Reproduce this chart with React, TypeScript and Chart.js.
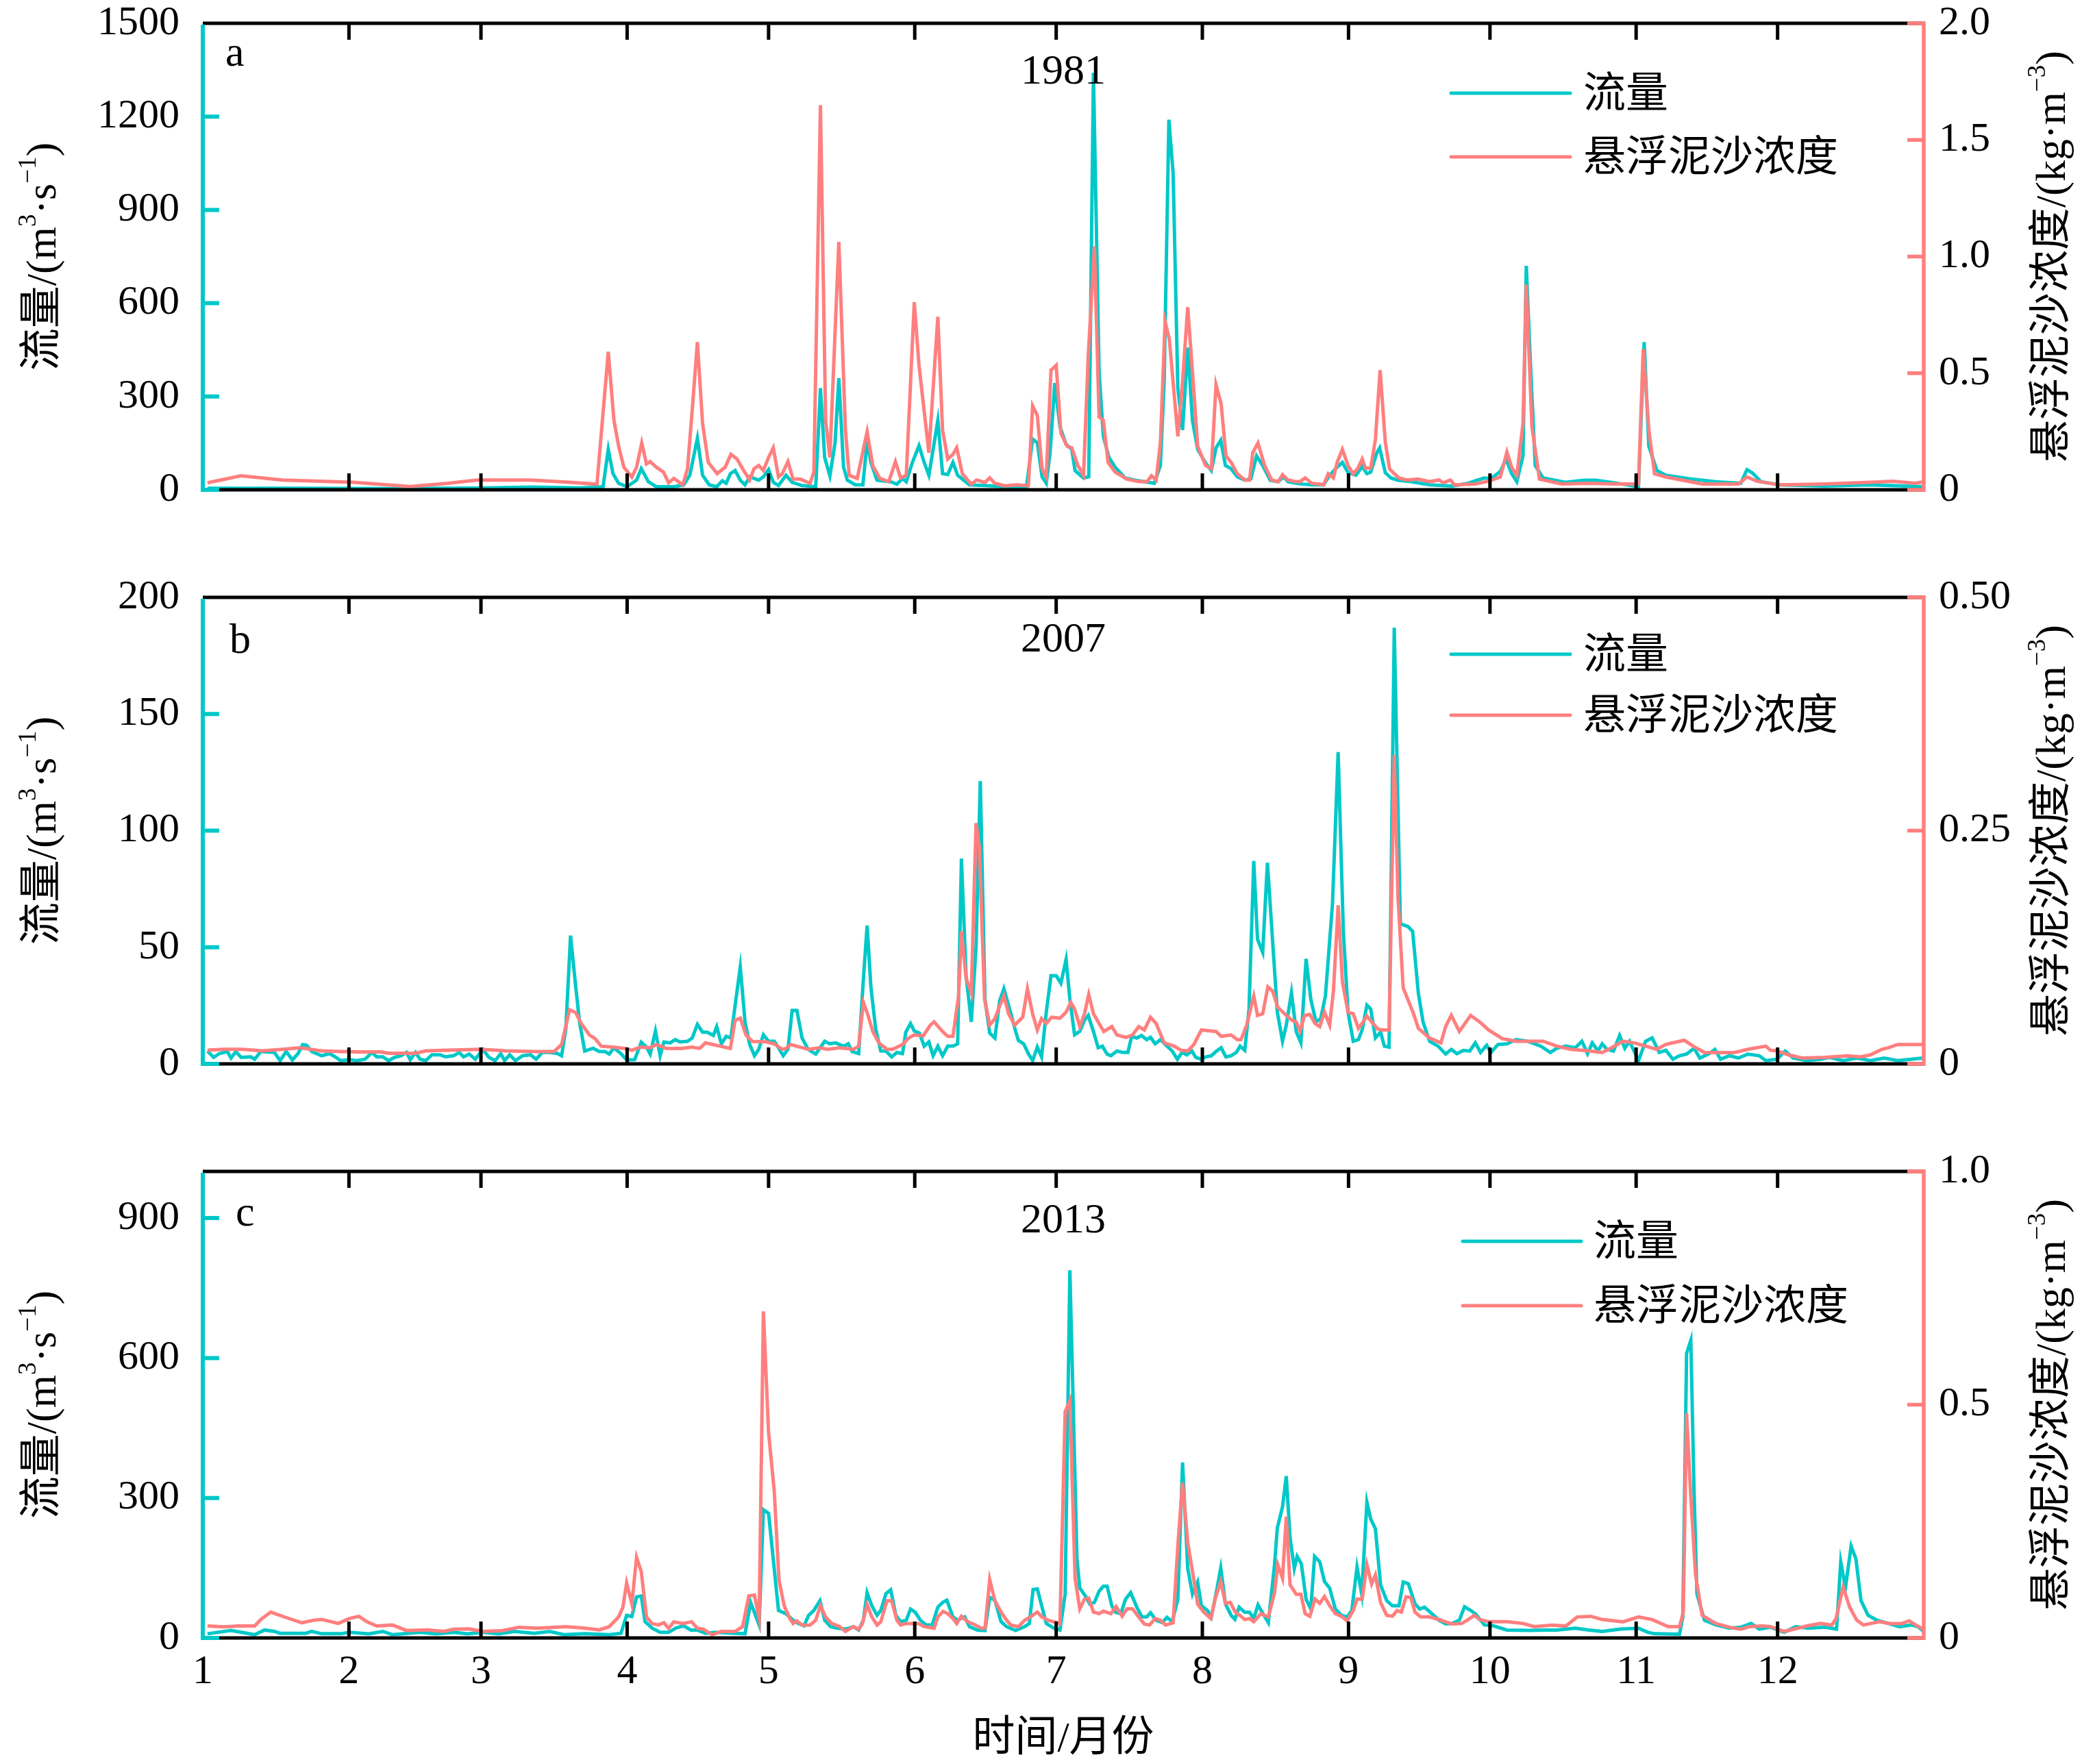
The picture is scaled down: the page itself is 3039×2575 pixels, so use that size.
import { useEffect, useRef } from "react"
import { Chart, registerables } from "chart.js"

Chart.register(...registerables)

const TEAL = "#00C8C8"
const SALMON = "#FF7F7F"
const FONT = "'Liberation Serif', 'Times New Roman', 'Noto Sans CJK SC', serif"

// x axis: day of year, ticks at month starts
const monthStartDays = [0, 31, 59, 90, 120, 151, 181, 212, 243, 273, 304, 334]
const monthLabels = ["1", "2", "3", "4", "5", "6", "7", "8", "9", "10", "11", "12"]

// 1981 — [day, flow m3/s] and [day, concentration kg/m3]
const flow1981: [number, number][] = [
  [1, 5], [20, 5], [40, 4], [60, 6], [70, 9], [80, 6], [84.9, 10], [86, 130], [87, 52], [88.2, 21], [90, 10],
  [92, 31], [93, 68], [94.5, 26], [96.2, 10], [100, 10], [102, 16], [103.3, 47], [104.9, 166], [106, 47],
  [107.4, 16], [109, 10], [110.2, 29], [111, 21], [111.9, 52], [112.9, 62], [114, 31], [115, 16], [116, 42],
  [117.9, 31], [118.9, 42], [120, 65], [121, 24], [122.1, 14], [123.7, 47], [125, 24], [127, 14], [130, 10],
  [131, 327], [131.9, 104], [133, 45], [134.1, 151], [134.9, 359], [135.9, 73], [136.7, 31], [138.4, 16],
  [140, 16], [140.9, 156], [141.7, 88], [143, 31], [145.9, 26], [147.2, 18], [148.4, 36], [149.2, 26],
  [150.5, 88], [151.9, 142], [153, 88], [154, 47], [155.9, 223], [156.9, 52], [158, 49], [159.1, 88],
  [160.1, 47], [162.6, 16], [165.9, 14], [170.1, 10], [174.7, 10], [176, 163], [177, 151], [178, 42],
  [178.9, 21], [179.7, 119], [180.7, 343], [181.8, 203], [183.1, 146], [184.3, 130], [185, 62], [186.8, 38],
  [187.9, 42], [188.9, 1341], [190.1, 379], [191, 172], [192.2, 104], [193.5, 73], [195.6, 38], [197.7, 31],
  [201.8, 21], [203.1, 78], [203.9, 348], [204.9, 1190], [205.8, 1019], [206.8, 327], [207.8, 192],
  [208.9, 457], [209.9, 223], [211, 130], [212.7, 86], [213.9, 62], [214.9, 135], [215.9, 159], [216.9, 78],
  [218.1, 68], [219.4, 42], [221, 31], [222.3, 36], [223.5, 109], [224.8, 78], [226.4, 31], [228.1, 26],
  [229.2, 42], [230.2, 26], [232.7, 19], [235.2, 16], [237.7, 16], [239, 47], [240.6, 73], [241.7, 88],
  [242.9, 55], [244.6, 47], [245.9, 75], [246.9, 52], [247.7, 57], [249, 119], [249.6, 135], [250.8, 55],
  [252, 38], [253.5, 31], [256.4, 26], [260.2, 16], [265, 12], [268.4, 21], [270.3, 31], [271.8, 38],
  [273.2, 36], [275.2, 59], [276.4, 99], [277.6, 52], [278.7, 26], [280, 109], [280.7, 720], [281.6, 400],
  [282.6, 78], [284.3, 38], [289.1, 24], [293, 31], [295.4, 31], [298.8, 24], [304.5, 10], [305.7, 475],
  [306.7, 140], [308.4, 62], [310.3, 47], [315.1, 36], [320.9, 26], [326.2, 21], [327.5, 65], [328.6, 55],
  [330.5, 26], [334.4, 16], [344, 12], [353.7, 16], [365, 10],
]
const conc1981: [number, number][] = [
  [1, 0.03], [8.1, 0.06], [16.9, 0.042], [31.9, 0.032], [44, 0.014], [52, 0.028], [58.2, 0.042], [69.5, 0.042],
  [77.8, 0.032], [83.6, 0.024], [86, 0.592], [87.2, 0.298], [88.2, 0.187], [89.3, 0.097], [91, 0.055],
  [92, 0.097], [93.1, 0.201], [94.1, 0.111], [94.9, 0.121], [96.2, 0.097], [97.7, 0.076], [98.8, 0.03],
  [99.9, 0.049], [101.8, 0.021], [102.8, 0.09], [103.8, 0.34], [104.9, 0.633], [106, 0.284], [107.2, 0.118],
  [109.1, 0.069], [110.8, 0.097], [112, 0.152], [113.3, 0.132], [114.5, 0.09], [116, 0.042], [116.9, 0.09],
  [117.9, 0.104], [118.9, 0.083], [120, 0.139], [121, 0.18], [122.1, 0.055], [122.9, 0.069], [124.1, 0.121],
  [125.2, 0.046], [126.7, 0.046], [128.8, 0.028], [129.6, 0.076], [131, 1.649], [132.1, 0.298], [133, 0.139],
  [134.9, 1.063], [136.3, 0.256], [137.1, 0.062], [138.8, 0.049], [140.9, 0.249], [142.1, 0.104],
  [143.6, 0.049], [145.5, 0.035], [146.9, 0.121], [148, 0.051], [149.2, 0.062], [150.9, 0.804], [151.9, 0.534],
  [154, 0.159], [155.9, 0.742], [156.9, 0.256], [158, 0.132], [159.1, 0.152], [159.9, 0.18], [161.1, 0.069],
  [163, 0.024], [164.1, 0.042], [165.9, 0.032], [166.9, 0.051], [168, 0.028], [170.1, 0.017], [172.6, 0.021],
  [175.1, 0.018], [176, 0.36], [177, 0.319], [178, 0.09], [178.9, 0.055], [179.9, 0.513], [181, 0.534],
  [182, 0.243], [183.3, 0.187], [184.3, 0.18], [185.6, 0.104], [186.8, 0.062], [187.8, 0.575], [189.1, 1.044],
  [190.1, 0.312], [191, 0.298], [192, 0.118], [193.5, 0.076], [196, 0.046], [198.5, 0.035], [200.3, 0.035],
  [201.2, 0.06], [202.2, 0.042], [203.1, 0.201], [204.1, 0.721], [205, 0.645], [206.8, 0.229], [207.7, 0.437],
  [208.9, 0.783], [210.2, 0.423], [211, 0.187], [212.7, 0.104], [213.9, 0.09], [214.9, 0.45], [216, 0.367],
  [217, 0.146], [218.1, 0.118], [219.4, 0.069], [221, 0.042], [222, 0.042], [222.7, 0.159], [223.8, 0.201],
  [225.2, 0.104], [226.7, 0.042], [228.1, 0.035], [229, 0.065], [230.2, 0.042], [231.9, 0.035], [232.7, 0.035],
  [233.8, 0.051], [235.2, 0.028], [236.9, 0.024], [237.7, 0.021], [238.7, 0.069], [239.8, 0.051],
  [240.6, 0.118], [241.7, 0.173], [242.9, 0.104], [244, 0.069], [245, 0.093], [245.9, 0.132], [246.6, 0.093],
  [247.7, 0.093], [248.7, 0.215], [249.7, 0.513], [250.8, 0.205], [251.7, 0.09], [252.5, 0.073],
  [253.7, 0.051], [255.4, 0.042], [257.8, 0.046], [260.2, 0.035], [262.2, 0.042], [263.1, 0.03],
  [264.6, 0.042], [265.5, 0.021], [269.9, 0.025], [272.7, 0.037], [275.2, 0.055], [276.6, 0.162],
  [277.6, 0.097], [278.7, 0.062], [280, 0.284], [280.7, 0.88], [281.9, 0.27], [283.5, 0.046], [288.2, 0.025],
  [293.9, 0.028], [299.7, 0.025], [304.5, 0.025], [305.5, 0.603], [306.7, 0.256], [307.9, 0.069],
  [310.3, 0.055], [318, 0.025], [325.7, 0.025], [327.5, 0.055], [329.6, 0.037], [334.4, 0.021], [344, 0.025],
  [353.7, 0.032], [358.5, 0.037], [363.3, 0.028], [365, 0.035],
]

// 2007
const flow2007: [number, number][] = [
  [1, 5.5], [2.3, 2.8], [3.5, 4.4], [5.2, 5.3], [6, 2.5], [7, 5.3], [8.1, 2.8], [10.2, 3], [11, 2], [12.3, 5.3],
  [15.2, 4.9], [16.4, 1.4], [17.7, 5.3], [19, 1.7], [20.2, 4.4], [21.2, 8.3], [22, 8], [23.1, 5.3], [25.2, 3.5],
  [26.9, 4.4], [28.1, 3], [29.2, 1.4], [31.1, 1.8], [32.7, 1.4], [34.4, 2], [35.9, 4.9], [36.9, 3], [38.2, 3],
  [39.4, 1.4], [40.7, 2.8], [42, 3.5], [43.2, 4.9], [44, 1.8], [45.1, 4.9], [46.1, 2], [47.3, 1.4], [48.6, 3.9],
  [50.3, 3.9], [51.5, 3], [53.2, 3.5], [54.4, 4.9], [55.3, 3], [56.5, 4.2], [57.8, 2], [59.4, 6.2], [60.7, 2.8],
  [62, 1.4], [63.2, 4.4], [64, 1.4], [65.1, 3.9], [66.3, 1.4], [67.8, 3.5], [69.5, 3.9], [70.7, 2], [72, 4.9],
  [73.6, 4.9], [75.3, 4.4], [76.1, 3.5], [77, 15], [78, 55], [79.1, 33], [79.9, 18], [81, 5.5], [82.8, 6.7],
  [84.1, 5.3], [85.3, 5.3], [86.2, 4.2], [87.2, 6.9], [88.7, 4.4], [89.9, 1.7], [91.6, 1.8], [93, 9.3],
  [94.1, 7.2], [94.9, 4.2], [96, 14.1], [97, 3.5], [97.8, 9.4], [99.1, 9], [100.2, 10.4], [101.2, 9.4],
  [102.8, 9.7], [103.8, 11.1], [104.9, 16.9], [106, 13.6], [107, 13.6], [108.3, 12.2], [109, 15.9], [110, 8.6],
  [111, 11.8], [112, 11.1], [112.9, 25], [114, 41.6], [115, 18], [116, 8.3], [117, 3.5], [117.9, 6.2],
  [118.9, 12.5], [120, 9.7], [121.2, 9.7], [122.1, 6.9], [123.1, 3.5], [124.1, 6.2], [125, 22.9], [126, 22.9],
  [127.1, 11.1], [128.4, 6.2], [130, 4.2], [131.9, 9.7], [133, 8.6], [134.2, 9], [135.9, 7.6], [136.9, 8.6],
  [137.7, 5.3], [139.1, 4.4], [140.1, 36], [140.9, 59.3], [141.7, 33], [142.7, 15.2], [143.8, 5.5],
  [144.9, 5.5], [146.1, 3], [147.2, 4.9], [148.4, 4.4], [149.1, 13.6], [150.1, 17.3], [150.9, 14.1],
  [152, 13.2], [153, 7.6], [154, 9.4], [154.9, 3.5], [155.9, 7.6], [156.9, 3.5], [158, 7.6], [159.1, 7.6],
  [160.1, 8.6], [160.9, 88], [161.9, 37.4], [163, 18], [164, 50], [164.9, 121.3], [165.9, 27.7], [166.9, 13.2],
  [168, 11.1], [169, 27], [169.9, 32.2], [171.4, 21.5], [172.4, 13.9], [173, 10], [174.1, 8.6], [175.1, 4.4],
  [176, 1.4], [177, 7.2], [177.9, 3], [178.9, 22.2], [179.9, 37.8], [181, 37.8], [182, 34.6], [183.1, 44.8],
  [183.9, 27.7], [184.9, 12.5], [186, 13.9], [187, 18.7], [187.8, 20.8], [188.9, 13.9], [189.9, 6.9],
  [190.8, 7.6], [191.8, 4.2], [192.6, 3.5], [193.9, 5.5], [195.2, 4.9], [196.2, 4.9], [197, 11.8],
  [198.1, 11.1], [199.1, 12.2], [200.2, 10.4], [201, 11.4], [202, 8.6], [203.1, 10.4], [204.3, 8], [205.6, 5.5],
  [206.7, 2], [207.7, 4.9], [208.7, 3.9], [209.8, 5.5], [210.6, 2.8], [211.7, 2], [212.7, 3], [213.9, 3.5],
  [215, 5.5], [216, 6.9], [217, 3], [218.1, 3.5], [219.2, 4.9], [220, 7.6], [221, 5.8], [221.9, 23.6],
  [222.9, 87], [223.7, 53.4], [224.8, 47.8], [225.8, 86.2], [226.9, 52.7], [227.9, 22.2], [229, 9.7],
  [229.8, 16.6], [230.9, 30.5], [231.9, 13.9], [232.9, 9], [234, 45], [235, 27.7], [236.1, 18], [237.1, 19.4],
  [238.1, 29.1], [239.6, 68.6], [240.8, 133.7], [241.9, 56.8], [242.9, 22.2], [244, 9.7], [245.1, 10.4],
  [245.9, 14.6], [246.9, 25.2], [247.7, 23.6], [248.7, 11.1], [249.8, 13.6], [250.6, 7.6], [251.6, 7.2],
  [252.7, 187], [254, 60], [255.6, 58.9], [256.6, 56.8], [257.8, 30.5], [258.8, 18], [260.2, 9.7], [262, 7.6],
  [263.6, 4.2], [264.8, 6.2], [266, 4.4], [267.4, 5.8], [268.7, 5.5], [269.9, 9], [271, 4.9], [272.3, 8],
  [273.2, 4.9], [274.7, 8.3], [276.6, 8.6], [278.5, 10.4], [281, 9.7], [283.8, 7.6], [285.8, 4.9],
  [287.2, 6.7], [289.1, 7.6], [291.1, 6.9], [292.5, 9.7], [293.7, 4.4], [294.7, 9], [295.9, 5.5], [296.8, 8.6],
  [297.8, 6.2], [299.2, 5.5], [300.5, 12.2], [301.6, 6.7], [302.6, 9.7], [304.5, 1.4], [306, 9.7],
  [307.4, 11.1], [308.9, 4.9], [310.3, 5.8], [311.8, 2], [313.2, 3.5], [314.7, 4.2], [316.3, 6.7],
  [317.5, 2.5], [319.5, 4.4], [320.7, 6.2], [321.9, 2], [323.8, 3.5], [325.7, 2.5], [327.7, 4.2],
  [330.1, 3.5], [331.5, 1.4], [333.9, 2], [335.6, 5.5], [337.3, 2.5], [340.2, 1.4], [343.1, 2], [345, 2.8],
  [347.9, 1.4], [350.8, 2.5], [353.7, 1.4], [356.6, 2.5], [359.5, 1.4], [362.3, 2], [364.8, 2.5],
]
const conc2007: [number, number][] = [
  [1, 0.0146], [4.4, 0.0156], [8.5, 0.0156], [12.7, 0.0139], [16.9, 0.0156], [20.6, 0.0173], [25.2, 0.0139],
  [29.4, 0.0132], [33.6, 0.0128], [37.7, 0.0128], [39.4, 0.0114], [45.2, 0.0114], [47.3, 0.0139],
  [51.9, 0.0146], [59, 0.0156], [64.4, 0.0139], [70.3, 0.0132], [74.5, 0.0132], [76.1, 0.0208], [77.8, 0.058],
  [79.1, 0.055], [80.3, 0.043], [82, 0.031], [83.2, 0.027], [84.5, 0.019], [87, 0.018], [89.5, 0.0166],
  [91, 0.0146], [92.8, 0.018], [94.9, 0.0173], [96.2, 0.0208], [98.3, 0.0166], [101.6, 0.0166], [103.7, 0.018],
  [105.4, 0.0166], [106.6, 0.0225], [111.9, 0.0166], [112.9, 0.0468], [114, 0.049], [115.2, 0.031],
  [116.6, 0.024], [119.5, 0.0236], [121.2, 0.0215], [122.9, 0.0156], [123.7, 0.0166], [124.7, 0.0208],
  [125.9, 0.019], [128.4, 0.0156], [130.9, 0.0173], [132.5, 0.0156], [135, 0.0173], [138, 0.0156],
  [139.1, 0.019], [140.1, 0.0658], [141.1, 0.052], [142.1, 0.0347], [143.4, 0.0225], [145.1, 0.0156],
  [146.3, 0.0156], [148.4, 0.0208], [149.7, 0.0277], [150.9, 0.031], [152.8, 0.03], [154.3, 0.0416],
  [155.1, 0.045], [156.9, 0.0347], [158, 0.0295], [159.1, 0.0295], [160.3, 0.0728], [160.9, 0.142],
  [161.9, 0.0918], [163, 0.0762], [164, 0.258], [164.7, 0.232], [165.8, 0.0693], [166.9, 0.0416], [168, 0.0485],
  [168.9, 0.0606], [169.9, 0.0728], [170.9, 0.0537], [172.2, 0.0416], [173.9, 0.05], [174.9, 0.0804],
  [176, 0.0537], [177, 0.0364], [177.9, 0.0485], [178.9, 0.0433], [180, 0.05], [181.8, 0.049], [183.1, 0.0554],
  [184.1, 0.0658], [184.9, 0.0589], [186, 0.04], [187, 0.0537], [187.9, 0.0745], [188.9, 0.0537],
  [190.1, 0.0433], [191.1, 0.0347], [192.8, 0.04], [193.9, 0.031], [195.8, 0.0284], [197.2, 0.031],
  [198.5, 0.04], [199.7, 0.0364], [201, 0.05], [202.2, 0.0433], [203.9, 0.0225], [206, 0.019], [207.5, 0.0146],
  [208.9, 0.0139], [210.2, 0.0208], [211.8, 0.0364], [213.9, 0.0353], [214.9, 0.0347], [216, 0.0295],
  [218.1, 0.031], [219.4, 0.026], [220.2, 0.026], [221.4, 0.0416], [222.9, 0.0728], [223.7, 0.052],
  [224.8, 0.0537], [225.9, 0.0825], [226.9, 0.078], [228, 0.0606], [229.8, 0.052], [231, 0.0468],
  [231.9, 0.045], [232.7, 0.0353], [233.7, 0.052], [234.8, 0.053], [235.9, 0.0433], [236.9, 0.04],
  [237.9, 0.0554], [239, 0.0416], [239.8, 0.078], [240.8, 0.17], [241.7, 0.0884], [242.9, 0.0554],
  [244, 0.0537], [245.1, 0.0381], [246.1, 0.045], [246.9, 0.0513], [248.2, 0.0433], [249.2, 0.0374],
  [250.2, 0.0364], [251.6, 0.0364], [252.7, 0.331], [253.5, 0.177], [254.6, 0.0814], [256.8, 0.0537],
  [257.8, 0.0381], [260.2, 0.0277], [262.6, 0.0225], [263.6, 0.04], [264.8, 0.052], [266.5, 0.0347],
  [268.9, 0.052], [270.8, 0.045], [272.7, 0.0364], [275.6, 0.027], [278.5, 0.0243], [281, 0.0243],
  [284.3, 0.0243], [287.2, 0.019], [290.1, 0.0156], [294, 0.0139], [296.8, 0.0121], [298.8, 0.0173],
  [301.2, 0.0243], [303.6, 0.0225], [306, 0.019], [308.4, 0.0156], [310.3, 0.0208], [314.2, 0.0253],
  [316.1, 0.019], [318.5, 0.0121], [324.8, 0.0121], [327.7, 0.0156], [331.5, 0.019], [332.5, 0.0146],
  [333.9, 0.0139], [336.3, 0.0097], [339.2, 0.0062], [344, 0.0069], [348.8, 0.0087], [351.7, 0.0076],
  [353.7, 0.0097], [356.1, 0.0156], [357.5, 0.0173], [359.5, 0.0208], [361.4, 0.0208], [364.8, 0.0208],
]

// 2013
const flow2013: [number, number][] = [
  [1, 9], [6, 16], [9.4, 10], [11, 7], [13.1, 17], [15.2, 14], [16.4, 10], [21.9, 10], [23.1, 14], [25.2, 9],
  [29.4, 9], [31.1, 12], [35.2, 9], [38.2, 14], [40.2, 7], [46.1, 12], [49.4, 9], [53.2, 12], [56.1, 9],
  [59.4, 12], [62.8, 9], [66.1, 14], [70.3, 10], [73.6, 14], [76.6, 7], [81.1, 9], [86.2, 7], [88.7, 10],
  [89.9, 48.5], [91, 46], [92, 88], [93, 90], [93.8, 35], [95.3, 21], [97, 12], [98.8, 12], [100.3, 21],
  [102, 26], [103.5, 17], [104.9, 17], [106.6, 10], [108.7, 12], [112.9, 10], [115, 9], [116.2, 76], [118, 28],
  [118.9, 275], [120, 267], [122.1, 59], [123.7, 52], [125.2, 38], [126.3, 31], [127.5, 26], [128.5, 48.5],
  [129.6, 59], [130.9, 80], [131.9, 38], [133.2, 24], [134.6, 21], [136.3, 19], [138, 24], [139.1, 17],
  [140.1, 38], [140.9, 97], [141.9, 69], [143, 48.5], [143.8, 59], [144.9, 95], [145.9, 103], [147, 48.5],
  [148, 35], [149.2, 38], [150.1, 62], [151.1, 55], [152.2, 38], [153.4, 28], [154.7, 28], [155.9, 66],
  [156.9, 76], [157.8, 81], [159.1, 45], [160.1, 38], [161.6, 45], [162.6, 24], [164.3, 17], [165.9, 16],
  [166.9, 87], [168, 81], [169.3, 35], [170.5, 24], [172.4, 16], [174.3, 24], [175.3, 31], [176.1, 104],
  [177, 105], [178, 66], [178.9, 31], [180.5, 21], [181.8, 17], [182.9, 94], [183.9, 788], [184.5, 544],
  [185.4, 170], [186, 107], [187.2, 90], [188.1, 73], [189.1, 76], [190.1, 100], [191, 111], [191.8, 111],
  [192.8, 69], [193.6, 55], [194.7, 52], [195.7, 83], [196.8, 97], [198.1, 66], [199.2, 45], [200.2, 45],
  [201, 54], [202.2, 38], [203.5, 33], [204.5, 44], [205.6, 35], [206.8, 83], [207.8, 376], [208.9, 149],
  [209.9, 94], [211, 120], [211.8, 69], [213.1, 59], [213.9, 45], [215, 100], [215.9, 150], [216.9, 73],
  [218.1, 48.5], [218.9, 40], [219.8, 66], [221, 55], [222, 55], [222.9, 42], [223.8, 71], [224.8, 53],
  [226, 33], [227.3, 156], [227.9, 236], [229, 281], [229.8, 347], [230.6, 215], [231.5, 149], [232.1, 175],
  [233, 159], [234, 83], [235, 62], [235.8, 175], [236.9, 163], [237.9, 121], [239, 107], [240.2, 62],
  [241.5, 48.5], [242.7, 45], [243.7, 59], [244.8, 152], [245.8, 94], [246.9, 291], [247.7, 255], [248.7, 234],
  [249.8, 114], [251.1, 80], [252.3, 69], [253.7, 69], [254.6, 120], [255.7, 116], [257.1, 73], [258.1, 62],
  [259.1, 66], [260.7, 52], [262.2, 38], [263.6, 30], [265, 31], [266.5, 38], [267.6, 67], [268.9, 59],
  [270, 51], [271.8, 28], [273.7, 26], [276.6, 17], [281.4, 16], [284.3, 17], [287.2, 17], [291.1, 21],
  [294, 17], [296.8, 14], [300.7, 19], [304.5, 21], [306.5, 12], [307.9, 9], [313.2, 8], [313.9, 45],
  [314.7, 610], [315.6, 638], [316.3, 308], [316.9, 94], [318.5, 38], [320.9, 28], [323.8, 21], [326.2, 23],
  [328.4, 31], [330.1, 19], [332.5, 23], [335.4, 12], [337.8, 24], [340.7, 21], [344, 23], [346.5, 19],
  [347.4, 163], [348.4, 108], [349.6, 197], [350.6, 170], [351.7, 80], [353.2, 48.5], [355.1, 38],
  [357.5, 31], [359.9, 24], [362.3, 28], [363.8, 24], [365, 14],
]
const conc2013: [number, number][] = [
  [1, 0.0256], [4.4, 0.024], [7.7, 0.0256], [11, 0.0256], [12.3, 0.0395], [14.4, 0.0554], [17.7, 0.0437],
  [21, 0.0326], [23.5, 0.038], [25.2, 0.0395], [27.3, 0.0347], [28.7, 0.031], [31.1, 0.0416], [33.1, 0.0464],
  [34.8, 0.0347], [36.9, 0.0256], [40.2, 0.0277], [41.5, 0.0229], [43.2, 0.0159], [47.8, 0.0173],
  [51.1, 0.0139], [53.2, 0.0187], [56.5, 0.0194], [59.4, 0.0139], [63.6, 0.0159], [67, 0.0229], [71.1, 0.0208],
  [77, 0.0243], [81.1, 0.0208], [84.1, 0.0173], [86.2, 0.0243], [88.2, 0.045], [89.1, 0.0658], [89.9, 0.118],
  [91, 0.0728], [92, 0.173], [93, 0.142], [94.1, 0.045], [95.3, 0.031], [96.6, 0.0277], [97.8, 0.0326],
  [98.8, 0.0208], [99.9, 0.0347], [101.8, 0.031], [103.7, 0.0347], [104.9, 0.0208], [106.2, 0.0187],
  [108, 0.0069], [110, 0.0139], [112.9, 0.0139], [114.5, 0.0243], [115.8, 0.09], [117, 0.092], [118, 0.0416],
  [118.9, 0.7], [120, 0.44], [121.2, 0.315], [122.2, 0.125], [123.3, 0.0693], [124.5, 0.0416], [125.2, 0.031],
  [126, 0.0367], [127.1, 0.0277], [128.8, 0.0277], [130, 0.038], [131, 0.0693], [132.1, 0.045], [133.4, 0.031],
  [135.1, 0.0243], [136.3, 0.0139], [138, 0.0243], [139.1, 0.0187], [139.9, 0.031], [140.9, 0.0714],
  [141.9, 0.045], [143, 0.0277], [143.8, 0.0347], [145.1, 0.0797], [146.1, 0.0797], [147.2, 0.038],
  [148, 0.0277], [149.2, 0.031], [151.7, 0.031], [153, 0.0243], [155.1, 0.0208], [155.9, 0.045], [157, 0.0568],
  [158, 0.052], [159.1, 0.0416], [159.9, 0.031], [160.9, 0.0464], [162.2, 0.0347], [163.9, 0.0277],
  [165.1, 0.0208], [165.9, 0.0208], [166.9, 0.125], [168, 0.0797], [169.3, 0.0554], [170.5, 0.038],
  [171.4, 0.0277], [173, 0.0243], [174.3, 0.038], [175.5, 0.045], [177, 0.0554], [178, 0.045], [179.3, 0.038],
  [181.8, 0.031], [182.9, 0.485], [183.9, 0.509], [185, 0.128], [186, 0.0624], [187, 0.0832], [187.9, 0.0852],
  [188.9, 0.0554], [190.1, 0.052], [191, 0.0575], [192.6, 0.052], [193.7, 0.0672], [195, 0.0464],
  [196, 0.0624], [197.2, 0.0624], [198.5, 0.045], [199.7, 0.0298], [200.8, 0.0277], [202, 0.0416],
  [203.1, 0.038], [204.2, 0.0277], [205.8, 0.0326], [206.8, 0.198], [207.8, 0.333], [208.9, 0.204],
  [210.2, 0.125], [211, 0.0728], [212.3, 0.0554], [213.8, 0.0416], [214.8, 0.0866], [215.9, 0.121],
  [216.9, 0.0742], [217.9, 0.0762], [219, 0.0554], [220.2, 0.0464], [221, 0.0395], [222, 0.0416],
  [222.9, 0.0347], [224.4, 0.052], [226, 0.045], [227.3, 0.097], [228, 0.157], [229, 0.128], [229.8, 0.26],
  [230.6, 0.114], [231.9, 0.0936], [232.9, 0.0936], [233.8, 0.052], [234.8, 0.0464], [235.9, 0.0832],
  [236.9, 0.0742], [237.9, 0.0887], [239, 0.0693], [240.2, 0.052], [241.5, 0.0464], [242.7, 0.0367],
  [244, 0.0589], [244.8, 0.0832], [245.9, 0.0832], [246.9, 0.157], [247.9, 0.116], [248.7, 0.135],
  [249.8, 0.0762], [251.1, 0.0485], [252.3, 0.0464], [253.3, 0.0589], [254.2, 0.0554], [255.2, 0.088],
  [256.2, 0.0866], [257.1, 0.0554], [258.3, 0.045], [260.2, 0.045], [262.6, 0.038], [265, 0.0298],
  [267, 0.031], [268.4, 0.0395], [269.7, 0.0485], [270.8, 0.0395], [272.7, 0.0347], [276.6, 0.0347],
  [280, 0.031], [282.4, 0.0243], [286.2, 0.0277], [289.1, 0.0256], [291.5, 0.045], [294.4, 0.0464],
  [296.8, 0.0395], [301.2, 0.0347], [304.5, 0.045], [307.4, 0.0395], [310.8, 0.0243], [313.2, 0.0243],
  [314, 0.0554], [314.7, 0.482], [315.6, 0.301], [316.6, 0.135], [318, 0.0485], [320.9, 0.031],
  [323.8, 0.0229], [326.2, 0.0187], [328.1, 0.0243], [330.6, 0.0256], [332.5, 0.0243], [335.4, 0.0139],
  [340.2, 0.0256], [343.1, 0.031], [345.5, 0.0277], [346.4, 0.0416], [347.9, 0.109], [349.3, 0.0658],
  [350.8, 0.038], [352.2, 0.0277], [355.5, 0.0347], [357.9, 0.031], [360.4, 0.031], [361.9, 0.0367],
  [363.3, 0.0277], [365, 0.0187],
]

// axis ticks
const flowTicksA = [0, 300, 600, 900, 1200, 1500]
const flowTicksB = [0, 50, 100, 150, 200]
const flowTicksC = [0, 300, 600, 900]
const concTicksA = [0, 0.5, 1, 1.5, 2]
const concLabelsA = ["0", "0.5", "1.0", "1.5", "2.0"]
const concTicksB = [0, 0.25, 0.5]
const concLabelsB = ["0", "0.25", "0.50"]
const concTicksC = [0, 0.5, 1]
const concLabelsC = ["0", "0.5", "1.0"]

const seriesNames = ["流量", "悬浮泥沙浓度"]

type Piece = { t: string; sup?: boolean }
const leftTitle: Piece[] = [{ t: "流量/(m" }, { t: "3", sup: true }, { t: "·s" }, { t: "−1", sup: true }, { t: ")" }]
const rightTitle: Piece[] = [{ t: "悬浮泥沙浓度/(kg·m" }, { t: "−3", sup: true }, { t: ")" }]
const xTitle = "时间/月份"

const panels = [
  {
    letter: "a", year: "1981", flow: flow1981, conc: conc1981,
    flowMax: 1500, flowTicks: flowTicksA, concMax: 2, concTicks: concTicksA, concLabels: concLabelsA,
    top: 0, height: 740, padTop: 34, padBottom: 25, showX: false,
    letterX: 329, letterBase: 62, yearBase: 88,
    legend: { x1: 2118, x2: 2292, tx: 2311, rows: [102, 195] },
  },
  {
    letter: "b", year: "2007", flow: flow2007, conc: conc2007,
    flowMax: 200, flowTicks: flowTicksB, concMax: 0.5, concTicks: concTicksB, concLabels: concLabelsB,
    top: 840, height: 740, padTop: 32, padBottom: 27, showX: false,
    letterX: 335, letterBase: 81, yearBase: 79,
    legend: { x1: 2118, x2: 2292, tx: 2311, rows: [83, 172] },
  },
  {
    letter: "c", year: "2013", flow: flow2013, conc: conc2013,
    flowMax: 1000, flowTicks: flowTicksC, concMax: 1, concTicks: concTicksC, concLabels: concLabelsC,
    top: 1675, height: 900, padTop: 35, padBottom: 184, showX: true,
    letterX: 344, letterBase: 79, yearBase: 89,
    legend: { x1: 2135, x2: 2308, tx: 2326, rows: [102, 196] },
  },
]

type PanelCfg = (typeof panels)[number]

const TICK = 24

function drawRich(ctx: CanvasRenderingContext2D, pieces: Piece[], cx: number, cy: number, size: number, rot: number) {
  const big = `${size}px ${FONT}`
  const small = `${Math.round(size * 0.6)}px ${FONT}`
  ctx.save()
  ctx.translate(cx, cy)
  ctx.rotate(rot)
  let total = 0
  const widths = pieces.map((p) => {
    ctx.font = p.sup ? small : big
    const w = ctx.measureText(p.t).width
    total += w
    return w
  })
  let x = -total / 2
  ctx.textAlign = "left"
  ctx.textBaseline = "middle"
  ctx.fillStyle = "#000"
  pieces.forEach((p, i) => {
    ctx.font = p.sup ? small : big
    ctx.fillText(p.t, x, p.sup ? -size * 0.36 : 0)
    x += widths[i]
  })
  ctx.restore()
}

function makeDecor(p: PanelCfg) {
  return {
    id: "decor" + p.letter,
    afterDatasetsDraw(chart: any) {
      const { ctx, chartArea: a, scales } = chart
      const xs = scales.x
      const yl = scales.y
      const yr = scales.y1
      ctx.save()
      ctx.lineCap = "butt"
      // month ticks, top and bottom, pointing inward
      ctx.strokeStyle = "#000"
      ctx.lineWidth = 5
      ctx.beginPath()
      monthStartDays.slice(1).forEach((d) => {
        const px = xs.getPixelForValue(d)
        ctx.moveTo(px, a.bottom)
        ctx.lineTo(px, a.bottom - TICK)
        ctx.moveTo(px, a.top)
        ctx.lineTo(px, a.top + TICK)
      })
      ctx.stroke()
      ctx.beginPath()
      ctx.moveTo(a.left, a.top)
      ctx.lineTo(a.right, a.top)
      ctx.moveTo(a.left, a.bottom)
      ctx.lineTo(a.right, a.bottom)
      ctx.stroke()
      // left spine (flow)
      ctx.strokeStyle = TEAL
      ctx.lineWidth = 6
      ctx.beginPath()
      ctx.moveTo(a.left, a.top + 2)
      ctx.lineTo(a.left, a.bottom + 3)
      p.flowTicks.forEach((v) => {
        if (v >= p.flowMax) return
        const py = yl.getPixelForValue(v)
        ctx.moveTo(a.left, py)
        ctx.lineTo(a.left + TICK, py)
      })
      ctx.stroke()
      // right spine (concentration)
      ctx.strokeStyle = SALMON
      ctx.lineWidth = 5.5
      ctx.beginPath()
      ctx.moveTo(a.right, a.top - 3)
      ctx.lineTo(a.right, a.bottom + 3)
      p.concTicks.forEach((v) => {
        const py = yr.getPixelForValue(v)
        ctx.moveTo(a.right, py)
        ctx.lineTo(a.right - TICK, py)
      })
      ctx.stroke()
      ctx.restore()
    },
    afterDraw(chart: any) {
      const { ctx, chartArea: a, data } = chart
      const midY = (a.top + a.bottom) / 2
      const midX = (a.left + a.right) / 2
      ctx.save()
      ctx.fillStyle = "#000"
      ctx.font = `62px ${FONT}`
      ctx.textBaseline = "alphabetic"
      ctx.textAlign = "left"
      ctx.fillText(p.letter, p.letterX, a.top + p.letterBase)
      ctx.textAlign = "center"
      ctx.fillText(p.year, midX, a.top + p.yearBase)
      // legend
      data.datasets.forEach((ds: any, i: number) => {
        const y = a.top + p.legend.rows[i]
        ctx.strokeStyle = ds.borderColor
        ctx.lineWidth = 5
        ctx.lineCap = "round"
        ctx.beginPath()
        ctx.moveTo(p.legend.x1, y)
        ctx.lineTo(p.legend.x2, y)
        ctx.stroke()
        ctx.fillStyle = "#000"
        ctx.textAlign = "left"
        ctx.textBaseline = "middle"
        ctx.font = `62px ${FONT}`
        ctx.fillText(ds.label, p.legend.tx, y + 5)
      })
      ctx.restore()
      drawRich(ctx, leftTitle, 65, midY, 62, -Math.PI / 2)
      drawRich(ctx, rightTitle, 2998, midY, 62, -Math.PI / 2)
      if (p.showX) drawRich(ctx, [{ t: xTitle }], midX, 2540 - p.top, 62, 0)
    },
  }
}

function zeroPad(s: any) {
  s.paddingTop = 0
  s.paddingBottom = 0
  s.paddingLeft = 0
  s.paddingRight = 0
}

function Panel({ p }: { p: PanelCfg }) {
  const canvasRef = useRef<HTMLCanvasElement>(null)
  const chartInstance = useRef<Chart | null>(null)

  useEffect(() => {
    if (!canvasRef.current) return
    if (chartInstance.current) chartInstance.current.destroy()
    const ctx = canvasRef.current.getContext("2d")
    if (!ctx) return
    const tickFont = { family: FONT, size: 60 }

    chartInstance.current = new Chart(ctx, {
      type: "line",
      data: {
        datasets: [
          {
            label: seriesNames[0],
            data: p.flow.map(([x, y]) => ({ x, y })),
            borderColor: TEAL,
            borderWidth: 5,
            pointRadius: 0,
            tension: 0,
            yAxisID: "y",
            xAxisID: "x",
            order: 2,
          },
          {
            label: seriesNames[1],
            data: p.conc.map(([x, y]) => ({ x, y })),
            borderColor: SALMON,
            borderWidth: 5,
            pointRadius: 0,
            tension: 0,
            yAxisID: "y1",
            xAxisID: "x",
            order: 1,
          },
        ],
      },
      options: {
        responsive: true,
        maintainAspectRatio: false,
        animation: false,
        layout: { padding: 0 },
        plugins: { legend: { display: false }, tooltip: { enabled: false } },
        scales: {
          x: {
            type: "linear",
            position: "bottom",
            min: 0,
            max: 365,
            grid: { display: false, drawTicks: false },
            border: { display: false },
            afterBuildTicks: (s: any) => {
              s.ticks = monthStartDays.map((v) => ({ value: v }))
            },
            ticks: {
              display: p.showX,
              autoSkip: false,
              maxRotation: 0,
              padding: 14,
              color: "#000",
              font: tickFont,
              callback: (_v: any, i: number) => monthLabels[i],
            },
            afterFit: (s: any) => {
              s.height = p.padBottom
              zeroPad(s)
            },
          },
          x2: {
            type: "linear",
            position: "top",
            min: 0,
            max: 365,
            grid: { display: false, drawTicks: false },
            border: { display: false },
            ticks: { display: false },
            afterFit: (s: any) => {
              s.height = p.padTop
              zeroPad(s)
            },
          },
          y: {
            type: "linear",
            position: "left",
            min: 0,
            max: p.flowMax,
            grid: { display: false, drawTicks: false },
            border: { display: false },
            afterBuildTicks: (s: any) => {
              s.ticks = p.flowTicks.map((v) => ({ value: v }))
            },
            ticks: {
              padding: 34,
              color: "#000",
              font: tickFont,
              callback: (_v: any, i: number) => String(p.flowTicks[i]),
            },
            afterFit: (s: any) => {
              s.width = 296
              zeroPad(s)
            },
          },
          y1: {
            type: "linear",
            position: "right",
            min: 0,
            max: p.concMax,
            grid: { display: false, drawTicks: false },
            border: { display: false },
            afterBuildTicks: (s: any) => {
              s.ticks = p.concTicks.map((v) => ({ value: v }))
            },
            ticks: {
              padding: 22,
              color: "#000",
              font: tickFont,
              callback: (_v: any, i: number) => p.concLabels[i],
            },
            afterFit: (s: any) => {
              s.width = 231
              zeroPad(s)
            },
          },
        },
      } as any,
      plugins: [makeDecor(p)],
    })

    return () => {
      if (chartInstance.current) {
        chartInstance.current.destroy()
        chartInstance.current = null
      }
    }
  }, [p])

  return (
    <div style={{ position: "absolute", left: 0, top: p.top, width: 3039, height: p.height }}>
      <canvas ref={canvasRef} style={{ display: "block" }} />
    </div>
  )
}

export default function App() {
  return (
    <div style={{ position: "absolute", left: 0, top: 0, width: 3039, height: 2575, background: "#fff", overflow: "hidden" }}>
      {panels.map((p) => (
        <Panel key={p.letter} p={p} />
      ))}
    </div>
  )
}
